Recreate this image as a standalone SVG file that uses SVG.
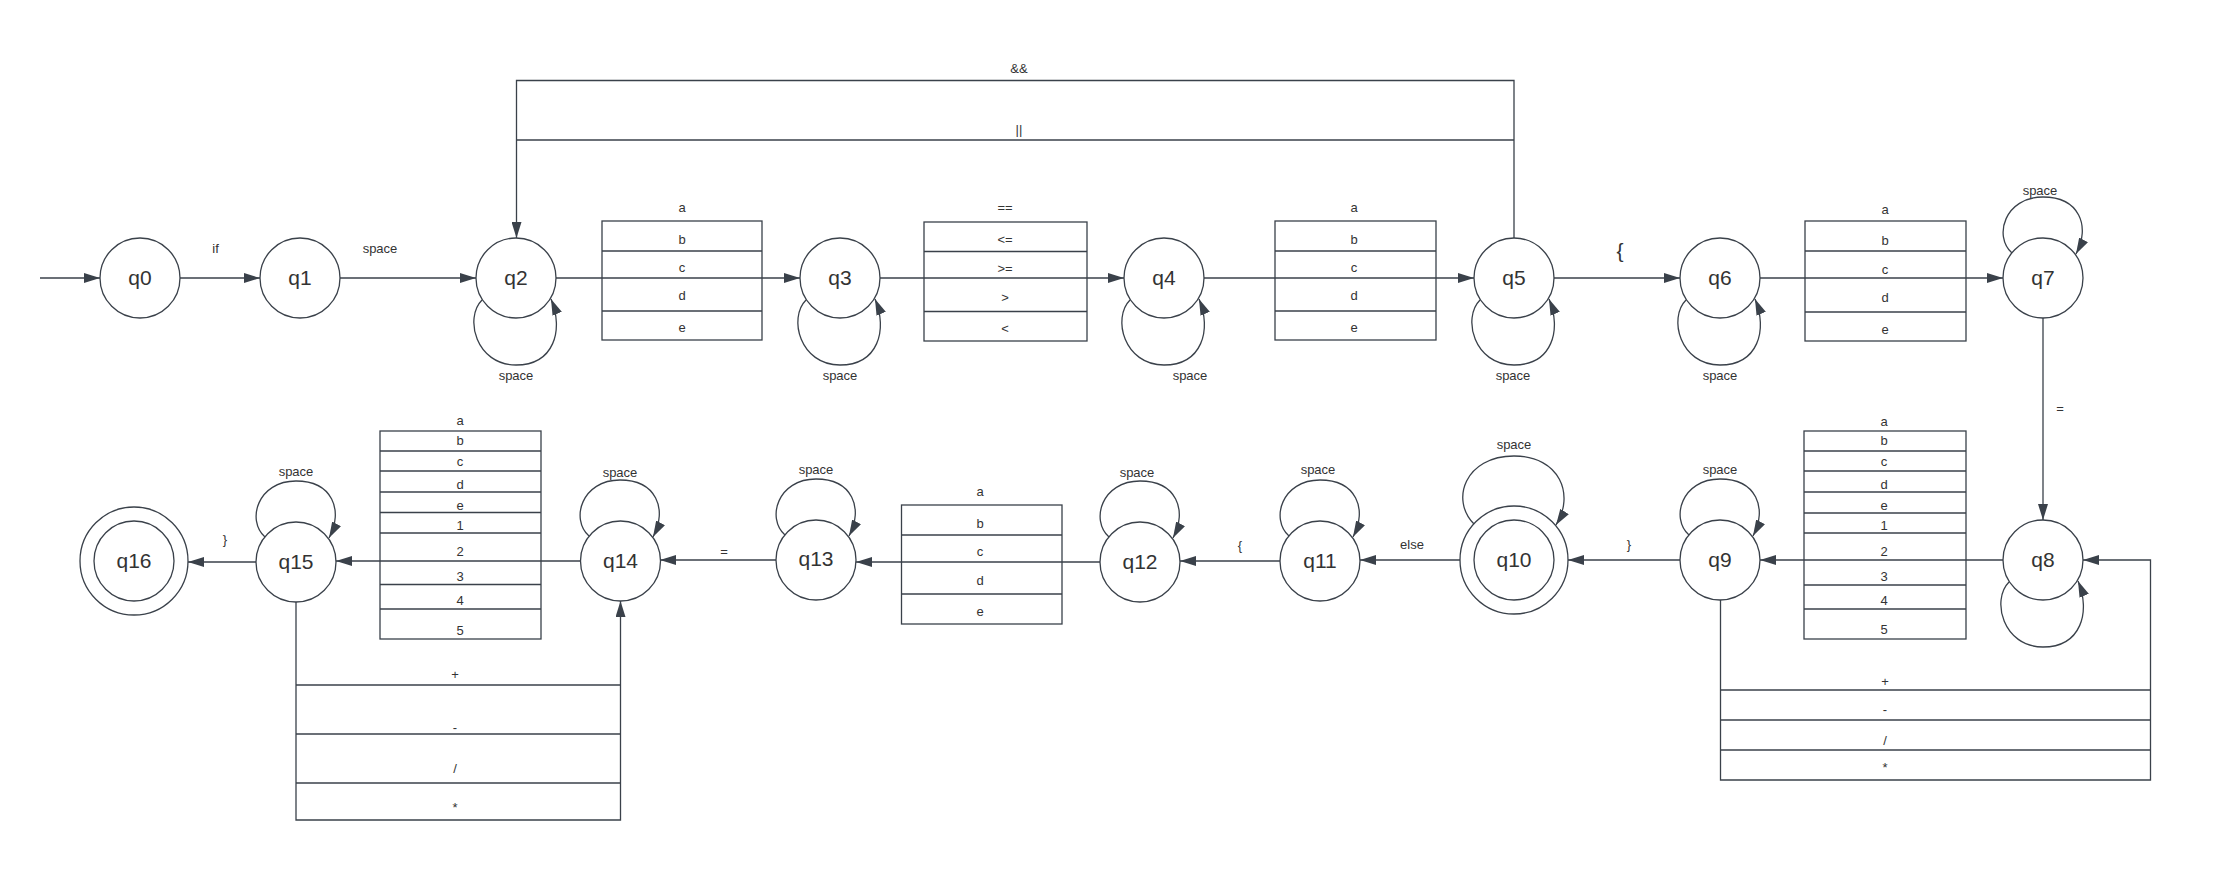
<svg xmlns="http://www.w3.org/2000/svg" width="2220" height="880" viewBox="0 0 2220 880">
<defs>
<marker id="arr" viewBox="0 0 16 10" markerWidth="16" markerHeight="10" refX="16" refY="5" orient="auto" markerUnits="userSpaceOnUse">
<path d="M0,0 L16,5 L0,10 z" fill="#3a414a"/>
</marker>
<style>
.st{fill:#fff;stroke:#3a414a;stroke-width:1.3}
.ln{fill:none;stroke:#3a414a;stroke-width:1.3}
.ar{fill:none;stroke:#3a414a;stroke-width:1.3;marker-end:url(#arr)}
.tb{fill:none;stroke:#3a414a;stroke-width:1.3}
.big{font-family:"Liberation Sans",Arial,sans-serif;font-size:21px;fill:#333;text-anchor:middle;dominant-baseline:central}
.sm{font-family:"Liberation Sans",Arial,sans-serif;font-size:13px;fill:#333;text-anchor:middle;dominant-baseline:central}
.br{font-family:"Liberation Sans",Arial,sans-serif;font-size:21px;fill:#333;text-anchor:middle;dominant-baseline:central}
</style>
</defs>
<rect width="2220" height="880" fill="#fff"/>

<g id="connectors">
<!-- top row straight -->
<line class="ar" x1="40" y1="278" x2="100" y2="278"/>
<line class="ar" x1="180" y1="278" x2="260" y2="278"/>
<line class="ar" x1="340" y1="278" x2="476" y2="278"/>
<line class="ar" x1="556" y1="278" x2="800" y2="278"/>
<line class="ar" x1="880" y1="278" x2="1124" y2="278"/>
<line class="ar" x1="1204" y1="278" x2="1474" y2="278"/>
<line class="ar" x1="1554" y1="278" x2="1680" y2="278"/>
<line class="ar" x1="1760" y1="278" x2="2003" y2="278"/>
<!-- top bridge q5 -> q2 -->
<path class="ar" d="M1514,238 L1514,80.5 L516.5,80.5 L516.5,238"/>
<line class="ln" x1="516.5" y1="140" x2="1514" y2="140"/>
<!-- q7 -> q8 -->
<line class="ar" x1="2043" y1="318" x2="2043" y2="520"/>
<!-- bottom row straight -->
<line class="ar" x1="2003" y1="560" x2="1760" y2="560"/>
<line class="ar" x1="1680" y1="560" x2="1568" y2="560"/>
<line class="ar" x1="1460" y1="560" x2="1360" y2="560"/>
<line class="ar" x1="1280" y1="561" x2="1180" y2="561"/>
<line class="ar" x1="1100" y1="562" x2="856" y2="562"/>
<line class="ar" x1="776" y1="560" x2="660" y2="560"/>
<line class="ar" x1="580" y1="561" x2="336" y2="561"/>
<line class="ar" x1="256" y1="562" x2="188" y2="562"/>
<!-- q9 -> q8 via bottom -->
<path class="ar" d="M1720.5,600 L1720.5,780 L2150.5,780 L2150.5,560 L2083,560"/>
<line class="ln" x1="1720.5" y1="690" x2="2150.5" y2="690"/>
<line class="ln" x1="1720.5" y1="720" x2="2150.5" y2="720"/>
<line class="ln" x1="1720.5" y1="750" x2="2150.5" y2="750"/>
<!-- q15 -> q14 via bottom -->
<path class="ar" d="M296,602 L296,820 L620.5,820 L620.5,601"/>
<line class="ln" x1="296" y1="685" x2="620.5" y2="685"/>
<line class="ln" x1="296" y1="734" x2="620.5" y2="734"/>
<line class="ln" x1="296" y1="783" x2="620.5" y2="783"/>
<!-- self loops, below (top row) -->
<path class="ar" d="M482,300 C464,318 476,365 516,365 C554,365 564,330 551,299"/>
<path class="ar" d="M806,300 C788,318 800,365 840,365 C878,365 888,330 875,299"/>
<path class="ar" d="M1130,300 C1112,318 1124,365 1164,365 C1202,365 1212,330 1199,299"/>
<path class="ar" d="M1480,300 C1462,318 1474,365 1514,365 C1552,365 1562,330 1549,299"/>
<path class="ar" d="M1686,300 C1668,318 1680,365 1720,365 C1758,365 1768,330 1755,299"/>
<path class="ar" d="M2009,582 C1991,600 2003,647 2043,647 C2081,647 2091,612 2078,581"/>
<!-- self loops, above -->
<path class="ar" d="M2012,253 C1993,236 2005,197 2043,197 C2079,197 2091,226 2076,254"/>
<path class="ar" d="M1689,535 C1670,518 1682,479 1720,479 C1756,479 1768,508 1753,536"/>
<path class="ar" d="M1474,524 C1450,500 1465,456 1514,456 C1560,456 1575,495 1556,525"/>
<path class="ar" d="M1289,536 C1270,519 1282,480 1320,480 C1356,480 1368,509 1353,537"/>
<path class="ar" d="M1109,537 C1090,520 1102,481 1140,481 C1176,481 1188,510 1173,538"/>
<path class="ar" d="M785,535 C766,518 778,479 816,479 C852,479 864,508 849,536"/>
<path class="ar" d="M589,536 C570,519 582,480 620,480 C656,480 668,509 653,537"/>
<path class="ar" d="M265,537 C246,520 258,481 296,481 C332,481 344,510 329,538"/>
<!-- connector labels -->
<text class="sm" x="215.5" y="248">if</text>
<text class="sm" x="380" y="248">space</text>
<text class="sm" x="1019" y="68">&amp;&amp;</text>
<text class="sm" x="1019" y="129">||</text>
<text class="br" x="1620" y="250">{</text>
<text class="sm" x="2060" y="408">=</text>
<text class="sm" x="516" y="375">space</text>
<text class="sm" x="840" y="375">space</text>
<text class="sm" x="1190" y="375">space</text>
<text class="sm" x="1513" y="375">space</text>
<text class="sm" x="1720" y="375">space</text>
<text class="sm" x="2040" y="190">space</text>
<text class="sm" x="1720" y="469">space</text>
<text class="sm" x="1514" y="444">space</text>
<text class="sm" x="1318" y="469">space</text>
<text class="sm" x="1137" y="472">space</text>
<text class="sm" x="816" y="469">space</text>
<text class="sm" x="620" y="472">space</text>
<text class="sm" x="296" y="471">space</text>
<text class="sm" x="1629" y="544">}</text>
<text class="sm" x="1412" y="544">else</text>
<text class="sm" x="1240" y="545">{</text>
<text class="sm" x="724" y="551">=</text>
<text class="sm" x="225" y="539">}</text>
<text class="sm" x="1885" y="681">+</text>
<text class="sm" x="1885" y="709">-</text>
<text class="sm" x="1885" y="740">/</text>
<text class="sm" x="1885" y="767">*</text>
<text class="sm" x="455" y="674">+</text>
<text class="sm" x="455" y="727">-</text>
<text class="sm" x="455" y="768">/</text>
<text class="sm" x="455" y="807">*</text>
</g>

<g id="table-q2-q3">
<rect class="tb" x="602" y="221" width="160" height="119"/>
<line class="ln" x1="602" y1="251" x2="762" y2="251"/>
<line class="ln" x1="602" y1="311" x2="762" y2="311"/>
<text class="sm" x="682" y="207">a</text>
<text class="sm" x="682" y="239">b</text>
<text class="sm" x="682" y="267">c</text>
<text class="sm" x="682" y="295">d</text>
<text class="sm" x="682" y="327">e</text>
</g>
<g id="table-q3-q4">
<rect class="tb" x="924" y="222" width="163" height="119"/>
<line class="ln" x1="924" y1="251.5" x2="1087" y2="251.5"/>
<line class="ln" x1="924" y1="311.5" x2="1087" y2="311.5"/>
<text class="sm" x="1005" y="207">==</text>
<text class="sm" x="1005" y="239">&lt;=</text>
<text class="sm" x="1005" y="268">&gt;=</text>
<text class="sm" x="1005" y="297">&gt;</text>
<text class="sm" x="1005" y="328">&lt;</text>
</g>
<g id="table-q4-q5">
<rect class="tb" x="1275" y="221" width="161" height="119"/>
<line class="ln" x1="1275" y1="251" x2="1436" y2="251"/>
<line class="ln" x1="1275" y1="311" x2="1436" y2="311"/>
<text class="sm" x="1354" y="207">a</text>
<text class="sm" x="1354" y="239">b</text>
<text class="sm" x="1354" y="267">c</text>
<text class="sm" x="1354" y="295">d</text>
<text class="sm" x="1354" y="327">e</text>
</g>
<g id="table-q6-q7">
<rect class="tb" x="1805" y="221" width="161" height="120"/>
<line class="ln" x1="1805" y1="251" x2="1966" y2="251"/>
<line class="ln" x1="1805" y1="312" x2="1966" y2="312"/>
<text class="sm" x="1885" y="209">a</text>
<text class="sm" x="1885" y="240">b</text>
<text class="sm" x="1885" y="269">c</text>
<text class="sm" x="1885" y="297">d</text>
<text class="sm" x="1885" y="329">e</text>
</g>
<g id="table-q8-q9">
<rect class="tb" x="1804" y="431" width="162" height="208"/>
<line class="ln" x1="1804" y1="451" x2="1966" y2="451"/>
<line class="ln" x1="1804" y1="471" x2="1966" y2="471"/>
<line class="ln" x1="1804" y1="492" x2="1966" y2="492"/>
<line class="ln" x1="1804" y1="513" x2="1966" y2="513"/>
<line class="ln" x1="1804" y1="533" x2="1966" y2="533"/>
<line class="ln" x1="1804" y1="585" x2="1966" y2="585"/>
<line class="ln" x1="1804" y1="609" x2="1966" y2="609"/>
<text class="sm" x="1884" y="421">a</text>
<text class="sm" x="1884" y="440">b</text>
<text class="sm" x="1884" y="461">c</text>
<text class="sm" x="1884" y="484">d</text>
<text class="sm" x="1884" y="505">e</text>
<text class="sm" x="1884" y="525">1</text>
<text class="sm" x="1884" y="551">2</text>
<text class="sm" x="1884" y="576">3</text>
<text class="sm" x="1884" y="600">4</text>
<text class="sm" x="1884" y="629">5</text>
</g>
<g id="table-q12-q13">
<rect class="tb" x="901.5" y="505" width="160.5" height="119"/>
<line class="ln" x1="901.5" y1="535" x2="1062" y2="535"/>
<line class="ln" x1="901.5" y1="594" x2="1062" y2="594"/>
<text class="sm" x="980" y="491">a</text>
<text class="sm" x="980" y="523">b</text>
<text class="sm" x="980" y="551">c</text>
<text class="sm" x="980" y="580">d</text>
<text class="sm" x="980" y="611">e</text>
</g>
<g id="table-q14-q15">
<rect class="tb" x="380" y="431" width="161" height="208"/>
<line class="ln" x1="380" y1="451" x2="541" y2="451"/>
<line class="ln" x1="380" y1="471" x2="541" y2="471"/>
<line class="ln" x1="380" y1="492" x2="541" y2="492"/>
<line class="ln" x1="380" y1="512.5" x2="541" y2="512.5"/>
<line class="ln" x1="380" y1="533" x2="541" y2="533"/>
<line class="ln" x1="380" y1="584.5" x2="541" y2="584.5"/>
<line class="ln" x1="380" y1="609" x2="541" y2="609"/>
<text class="sm" x="460" y="420">a</text>
<text class="sm" x="460" y="440">b</text>
<text class="sm" x="460" y="461">c</text>
<text class="sm" x="460" y="484">d</text>
<text class="sm" x="460" y="505">e</text>
<text class="sm" x="460" y="525">1</text>
<text class="sm" x="460" y="551">2</text>
<text class="sm" x="460" y="576">3</text>
<text class="sm" x="460" y="600">4</text>
<text class="sm" x="460" y="630">5</text>
</g>

<g id="q0"><circle class="st" cx="140" cy="278" r="40"/><text class="big" x="140" y="277">q0</text></g>
<g id="q1"><circle class="st" cx="300" cy="278" r="40"/><text class="big" x="300" y="277">q1</text></g>
<g id="q2"><circle class="st" cx="516" cy="278" r="40"/><text class="big" x="516" y="277">q2</text></g>
<g id="q3"><circle class="st" cx="840" cy="278" r="40"/><text class="big" x="840" y="277">q3</text></g>
<g id="q4"><circle class="st" cx="1164" cy="278" r="40"/><text class="big" x="1164" y="277">q4</text></g>
<g id="q5"><circle class="st" cx="1514" cy="278" r="40"/><text class="big" x="1514" y="277">q5</text></g>
<g id="q6"><circle class="st" cx="1720" cy="278" r="40"/><text class="big" x="1720" y="277">q6</text></g>
<g id="q7"><circle class="st" cx="2043" cy="278" r="40"/><text class="big" x="2043" y="277">q7</text></g>
<g id="q8"><circle class="st" cx="2043" cy="560" r="40"/><text class="big" x="2043" y="559">q8</text></g>
<g id="q9"><circle class="st" cx="1720" cy="560" r="40"/><text class="big" x="1720" y="559">q9</text></g>
<g id="q10"><circle class="st" cx="1514" cy="560" r="54"/><circle class="st" cx="1514" cy="560" r="40"/><text class="big" x="1514" y="559">q10</text></g>
<g id="q11"><circle class="st" cx="1320" cy="561" r="40"/><text class="big" x="1320" y="560">q11</text></g>
<g id="q12"><circle class="st" cx="1140" cy="562" r="40"/><text class="big" x="1140" y="561">q12</text></g>
<g id="q13"><circle class="st" cx="816" cy="560" r="40"/><text class="big" x="816" y="558">q13</text></g>
<g id="q14"><circle class="st" cx="620.5" cy="561" r="40"/><text class="big" x="620.5" y="560">q14</text></g>
<g id="q15"><circle class="st" cx="296" cy="562" r="40"/><text class="big" x="296" y="561">q15</text></g>
<g id="q16"><circle class="st" cx="134" cy="561" r="54"/><circle class="st" cx="134" cy="561" r="40"/><text class="big" x="134" y="560">q16</text></g>
</svg>
